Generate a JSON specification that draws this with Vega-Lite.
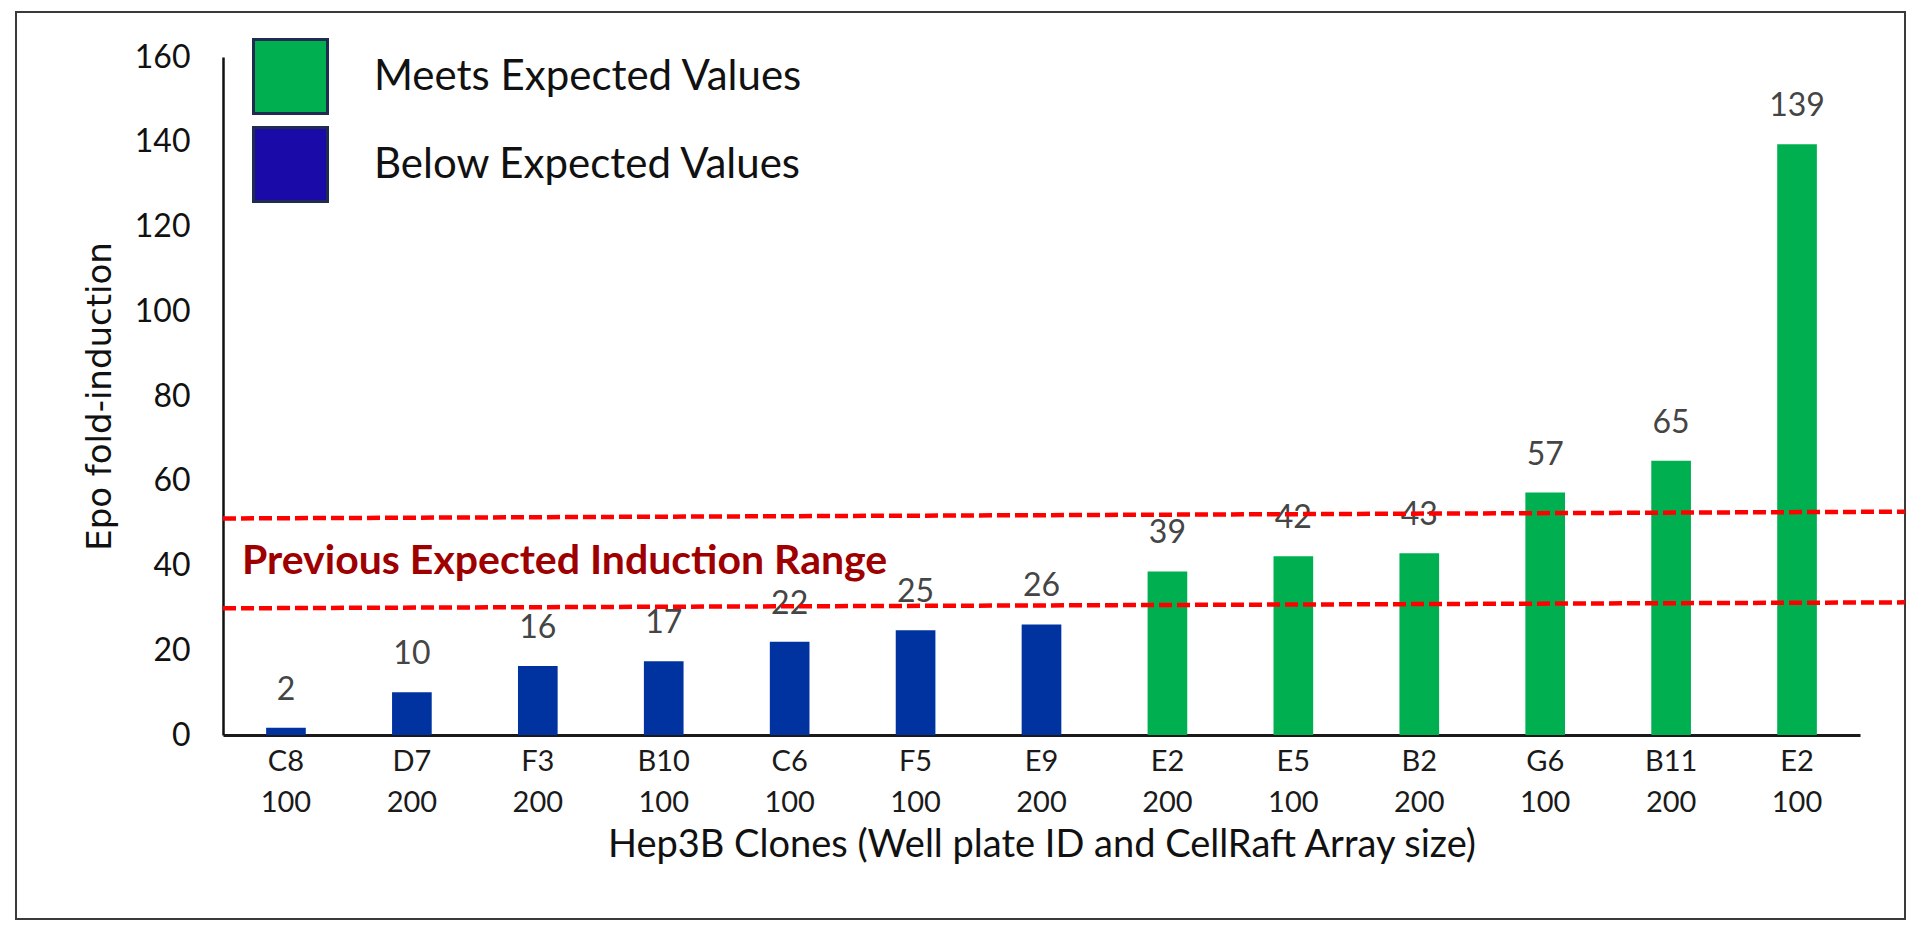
{
  "$schema": "https://vega.github.io/schema/vega-lite/v6.json",
  "width": 1889,
  "height": 907,
  "autosize": "none",
  "padding": {"left": 16, "top": 12, "right": 15, "bottom": 13},
  "background": "white",
  "config": {
    "font": "Lato",
    "view": {"stroke": "#3a3a3a", "strokeWidth": 2}
  },
  "datasets": {
    "clones": [
      {"clone": "C8/100", "fold": 1.7, "status": "Below Expected Values"},
      {"clone": "D7/200", "fold": 10.1, "status": "Below Expected Values"},
      {"clone": "F3/200", "fold": 16.3, "status": "Below Expected Values"},
      {"clone": "B10/100", "fold": 17.4, "status": "Below Expected Values"},
      {"clone": "C6/100", "fold": 22.0, "status": "Below Expected Values"},
      {"clone": "F5/100", "fold": 24.7, "status": "Below Expected Values"},
      {"clone": "E9/200", "fold": 26.1, "status": "Below Expected Values"},
      {"clone": "E2/200", "fold": 38.6, "status": "Meets Expected Values"},
      {"clone": "E5/100", "fold": 42.2, "status": "Meets Expected Values"},
      {"clone": "B2/200", "fold": 42.9, "status": "Meets Expected Values"},
      {"clone": "G6/100", "fold": 57.2, "status": "Meets Expected Values"},
      {"clone": "B11/200", "fold": 64.7, "status": "Meets Expected Values"},
      {"clone": "E2/100", "fold": 139.4, "status": "Meets Expected Values"}
    ],
    "bounds": [
      {"limit": "lower", "start": 29.9, "end": 31.3},
      {"limit": "upper", "start": 51.1, "end": 52.7}
    ],
    "note": [
      {"note": "Previous Expected Induction Range"}
    ],
    "groups": [
      {"status": "Meets Expected Values"},
      {"status": "Below Expected Values"}
    ]
  },
  "layer": [
    {
      "data": {"name": "clones"},
      "encoding": {
        "x": {
          "field": "clone",
          "type": "nominal",
          "sort": null,
          "scale": {"range": [207, 1844], "paddingInner": 0.685, "paddingOuter": 0.3425},
          "axis": {
            "title": "Hep3B Clones (Well plate ID and CellRaft Array size)",
            "offset": -184,
            "labelExpr": "split(datum.label, '/')",
            "labelAngle": 0,
            "labelFont": "Lato",
            "labelFontSize": 29,
            "labelLineHeight": 41,
            "labelPadding": 12,
            "labelColor": "#1a1a1a",
            "ticks": false,
            "domainColor": "#1a1a1a",
            "domainWidth": 3,
            "titleFont": "Lato",
            "titleFontSize": 38,
            "titleFontWeight": "normal",
            "titleColor": "#111111",
            "titlePadding": 9
          }
        },
        "y": {
          "field": "fold",
          "type": "quantitative",
          "scale": {"domain": [0, 160], "range": [723, 45], "nice": false, "zero": true},
          "axis": {
            "title": "Epo fold-induction",
            "offset": -207,
            "values": [0, 20, 40, 60, 80, 100, 120, 140, 160],
            "grid": false,
            "ticks": false,
            "labelFont": "Lato",
            "labelFontSize": 32,
            "labelPadding": 33,
            "labelColor": "#111111",
            "domainColor": "#111111",
            "domainWidth": 2.5,
            "titleFont": "DejaVu Sans",
            "titleFontSize": 34,
            "titleFontWeight": "normal",
            "titleColor": "#111111",
            "titlePadding": 17
          }
        }
      },
      "layer": [
        {
          "mark": {"type": "bar"},
          "encoding": {
            "color": {
              "field": "status",
              "type": "nominal",
              "scale": {"domain": ["Meets Expected Values", "Below Expected Values"], "range": ["#00B050", "#0033A0"]},
              "legend": null
            }
          }
        },
        {
          "mark": {"type": "text", "baseline": "alphabetic", "dy": -28, "fontSize": 32, "font": "Lato", "color": "#454545"},
          "encoding": {
            "text": {"field": "fold", "type": "quantitative", "format": ".0f"}
          }
        }
      ]
    },
    {
      "layer": [
        {
          "data": {"name": "bounds"},
          "mark": {"type": "rule", "color": "#FF0000", "strokeWidth": 4.5, "strokeDash": [13, 5]},
          "encoding": {
            "x": {"datum": 0, "type": "quantitative", "scale": {"domain": [0, 1], "range": [207, 1889]}, "axis": null},
            "x2": {"datum": 1},
            "y": {"field": "start", "type": "quantitative", "title": "Epo fold-induction"},
            "y2": {"field": "end"}
          }
        },
        {
          "data": {"name": "note"},
          "mark": {"type": "text", "align": "left", "baseline": "alphabetic", "dx": 19, "font": "Lato", "fontSize": 41, "fontWeight": "bold", "color": "#9E0000"},
          "encoding": {
            "x": {"datum": 0, "type": "quantitative"},
            "y": {"datum": 38, "type": "quantitative"},
            "text": {"field": "note", "type": "nominal"}
          }
        }
      ]
    },
    {
      "data": {"name": "groups"},
      "mark": {"type": "bar"},
      "encoding": {
        "y": {"datum": 0, "type": "quantitative"},
        "color": {
          "field": "status",
          "type": "nominal",
          "scale": {"domain": ["Meets Expected Values", "Below Expected Values"], "range": ["#00B050", "#1A0AA8"]},
          "legend": {
            "orient": "none",
            "legendX": 236,
            "legendY": 26,
            "title": null,
            "padding": 0,
            "symbolType": "square",
            "symbolSize": 5476,
            "symbolStrokeColor": "#1F2B4F",
            "symbolStrokeWidth": 3,
            "symbolOpacity": 1,
            "labelFont": "Lato",
            "labelFontSize": 42,
            "labelColor": "#111111",
            "labelOffset": 45,
            "labelLimit": 0,
            "rowPadding": 1
          }
        }
      }
    }
  ],
  "resolve": {"scale": {"x": "independent", "color": "independent"}}
}
